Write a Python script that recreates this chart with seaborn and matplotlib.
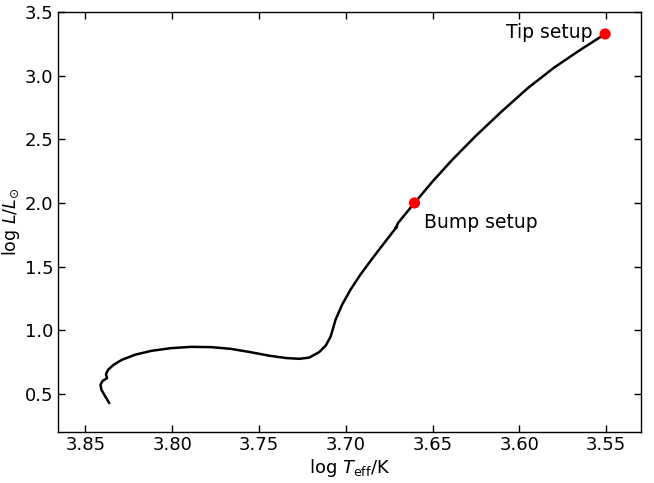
import matplotlib
matplotlib.use("Agg")
import matplotlib.pyplot as plt
import seaborn as sns
import pandas as pd

sns.set_style("ticks")
plt.rcParams['font.family'] = ['DejaVu Sans']
plt.rcParams['mathtext.fontset'] = 'dejavusans'
plt.rcParams['text.color'] = 'black'
plt.rcParams['axes.labelcolor'] = 'black'
plt.rcParams['xtick.color'] = 'black'
plt.rcParams['ytick.color'] = 'black'

# Evolutionary track
log_teff = [3.8362, 3.8385, 3.8407, 3.8413, 3.8400, 3.8375, 3.8381, 3.8369, 3.8337,
            3.8290, 3.8214, 3.8119, 3.8006, 3.7892, 3.7778, 3.7665, 3.7551, 3.7438,
            3.7343, 3.7267, 3.7210, 3.7153, 3.7115, 3.7087, 3.7059, 3.7021, 3.6973,
            3.6916, 3.6860, 3.6794, 3.6727, 3.6705, 3.6713, 3.6699, 3.6652, 3.6604,
            3.6500, 3.6386, 3.6254, 3.6102, 3.5951, 3.5799, 3.5648, 3.5506]
log_lum = [0.427, 0.479, 0.531, 0.571, 0.602, 0.623, 0.655, 0.689, 0.728,
           0.767, 0.807, 0.838, 0.859, 0.869, 0.867, 0.854, 0.828, 0.799,
           0.781, 0.775, 0.785, 0.828, 0.880, 0.950, 1.082, 1.200, 1.318,
           1.436, 1.540, 1.658, 1.776, 1.815, 1.800, 1.842, 1.921, 2.000,
           2.169, 2.340, 2.523, 2.719, 2.903, 3.065, 3.204, 3.328]

setup_names = ["Bump setup", "Tip setup"]
setup_teff = [3.6604, 3.5506]
setup_lum = [2.000, 3.328]

track = pd.DataFrame({"teff": log_teff, "lum": log_lum})
pts = pd.DataFrame({"teff": setup_teff, "lum": setup_lum, "name": setup_names})

fig = plt.figure(figsize=(6.54, 4.83), dpi=100)
ax = fig.add_axes([0.088, 0.1056, 0.892, 0.8694])

sns.lineplot(data=track, x="teff", y="lum", sort=False, estimator=None,
             color="black", linewidth=1.8, ax=ax)
sns.scatterplot(data=pts, x="teff", y="lum", color="red", s=65,
                edgecolor="none", zorder=5, ax=ax)

fs = 13
ax.annotate(setup_names[0], (setup_teff[0], setup_lum[0]), xytext=(7, -14),
            textcoords="offset points", ha="left", va="center", fontsize=13.5)
ax.annotate(setup_names[1], (setup_teff[1], setup_lum[1]), xytext=(-9, 1),
            textcoords="offset points", ha="right", va="center", fontsize=13.5)

ax.set_xlim(3.866, 3.530)
ax.set_ylim(0.2, 3.5)
ax.set_xticks([3.85, 3.80, 3.75, 3.70, 3.65, 3.60, 3.55])
ax.set_yticks([0.5, 1.0, 1.5, 2.0, 2.5, 3.0, 3.5])
ax.xaxis.set_major_formatter(matplotlib.ticker.FormatStrFormatter('%.2f'))
ax.yaxis.set_major_formatter(matplotlib.ticker.FormatStrFormatter('%.1f'))
ax.tick_params(direction="in", top=True, right=True, labelsize=fs, length=5, width=1, pad=3)
for s in ax.spines.values():
    s.set_visible(True)
    s.set_color("black")
    s.set_linewidth(1)
ax.set_xlabel(r"log $T_{\rm eff}$/K", fontsize=fs, labelpad=2)
ax.set_ylabel(r"log $L/L_{\odot}$", fontsize=12.5)
ax.yaxis.set_label_coords(-0.061, 0.5)

fig.savefig("out.png", dpi=100)
